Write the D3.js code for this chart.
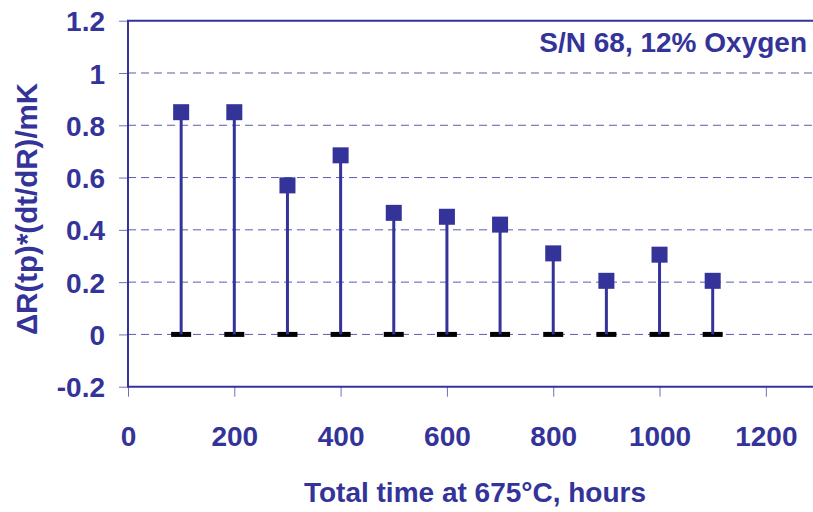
<!DOCTYPE html>
<html>
<head>
<meta charset="utf-8">
<script src="https://cdn.jsdelivr.net/npm/d3@7/dist/d3.min.js"></script>
<style>
  html, body { margin: 0; padding: 0; background: #fff; }
  svg text { font-family: "Liberation Sans", Arial, sans-serif; font-weight: bold; fill: #333399; }
</style>
</head>
<body>
<svg id="chart" width="813" height="512"></svg>
<script>
// Sensor drift vs. exposure time
const hours = [100, 200, 300, 400, 500, 600, 700, 800, 900, 1000, 1100];
const drift = [0.85, 0.85, 0.57, 0.685, 0.465, 0.45, 0.42, 0.31, 0.205, 0.305, 0.205];
const baseline = [0, 0, 0, 0, 0, 0, 0, 0, 0, 0, 0];
const xTicks = [0, 200, 400, 600, 800, 1000, 1200];
const yTicks = [-0.2, 0, 0.2, 0.4, 0.6, 0.8, 1, 1.2];
const xTitle = "Total time at 675°C, hours";
const yTitle = "ΔR(tp)*(dt/dR)/mK";
const note = "S/N 68, 12% Oxygen";

const blue = "#333399";
const svg = d3.select("#chart");

const x = d3.scaleLinear().domain([0, 1300]).range([128, 819]);
const y = d3.scaleLinear().domain([-0.2, 1.2]).range([386.7, 20.7]);

// dashed gridlines
svg.append("g")
  .selectAll("line")
  .data(yTicks.filter(t => t > -0.2 && t < 1.2))
  .join("line")
  .attr("x1", x(0)).attr("x2", 813)
  .attr("y1", d => y(d)).attr("y2", d => y(d))
  .attr("stroke", blue).attr("stroke-opacity", 0.8)
  .attr("stroke-width", 1).attr("stroke-dasharray", "8,5");

// y axis
const yAxis = d3.axisLeft(y).tickValues(yTicks).tickSize(9).tickPadding(14)
  .tickFormat(d => d3.format("")(+d.toFixed(1)).replace("−", "-"));
const gy = svg.append("g").attr("transform", `translate(${x(0)},0)`).call(yAxis);
gy.select(".domain").remove();
gy.selectAll(".tick line").attr("stroke", blue).attr("stroke-opacity", 0.7);
gy.selectAll(".tick text").attr("font-size", 28).attr("dy", "0.36em")
  .style("font-family", "'Liberation Sans', Arial, sans-serif").attr("fill", blue);

// x axis
const xAxis = d3.axisBottom(x).tickValues(xTicks).tickSize(10).tickPadding(29)
  .tickFormat(d3.format("d"));
const gx = svg.append("g").attr("transform", `translate(0,${y(-0.2)})`).call(xAxis);
gx.select(".domain").remove();
gx.selectAll(".tick line").attr("stroke", blue).attr("stroke-opacity", 0.7);
gx.selectAll(".tick text").attr("font-size", 28)
  .style("font-family", "'Liberation Sans', Arial, sans-serif").attr("fill", blue);

// plot frame: left, bottom and top edges
svg.append("path")
  .attr("d", `M813,${y(1.2)}H${x(0)}V${y(-0.2)}H813`)
  .attr("fill", "none").attr("stroke", blue).attr("stroke-width", 2);

const pts = hours.map((h, i) => ({ h, v: drift[i], b: baseline[i] }));

// zero markers (black dashes)
svg.append("g").selectAll("rect")
  .data(pts).join("rect")
  .attr("x", d => x(d.h) - 10).attr("y", d => y(d.b) - 2.5)
  .attr("width", 20).attr("height", 5).attr("fill", "#000");

// stems
svg.append("g").selectAll("line")
  .data(pts).join("line")
  .attr("x1", d => x(d.h)).attr("x2", d => x(d.h))
  .attr("y1", d => y(d.b)).attr("y2", d => y(d.v))
  .attr("stroke", blue).attr("stroke-width", 3);

// square markers
svg.append("g").selectAll("rect")
  .data(pts).join("rect")
  .attr("x", d => x(d.h) - 8).attr("y", d => y(d.v) - 8)
  .attr("width", 16).attr("height", 16).attr("fill", blue);

// titles
svg.append("text").attr("x", 475).attr("y", 502).attr("text-anchor", "middle")
  .attr("font-size", 28).text(xTitle);
svg.append("text").attr("transform", "translate(37,209) rotate(-90)")
  .attr("text-anchor", "middle").attr("font-size", 29.5).text(yTitle);
svg.append("text").attr("x", 807).attr("y", 52).attr("text-anchor", "end")
  .attr("font-size", 28).text(note);
</script>
</body>
</html>
